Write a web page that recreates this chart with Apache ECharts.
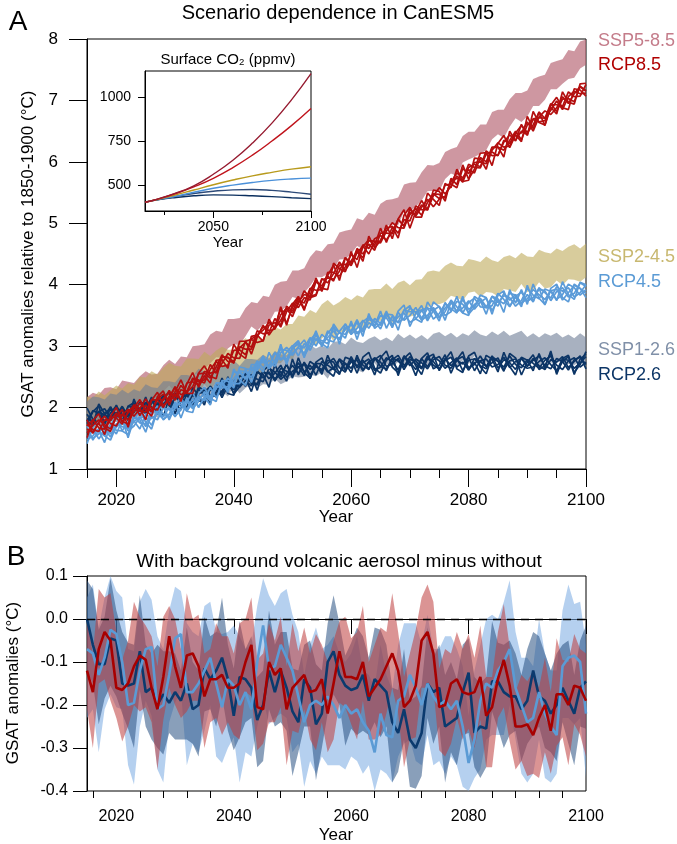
<!DOCTYPE html>
<html><head><meta charset="utf-8">
<script src="https://cdn.jsdelivr.net/npm/echarts@6/dist/echarts.min.js"></script>
<style>html,body{margin:0;padding:0;background:#fff}#c{width:677px;height:844px}</style>
</head><body><div id="c"></div>
<script>
const years = [2015,2016,2017,2018,2019,2020,2021,2022,2023,2024,2025,2026,2027,2028,2029,2030,2031,2032,2033,2034,2035,2036,2037,2038,2039,2040,2041,2042,2043,2044,2045,2046,2047,2048,2049,2050,2051,2052,2053,2054,2055,2056,2057,2058,2059,2060,2061,2062,2063,2064,2065,2066,2067,2068,2069,2070,2071,2072,2073,2074,2075,2076,2077,2078,2079,2080,2081,2082,2083,2084,2085,2086,2087,2088,2089,2090,2091,2092,2093,2094,2095,2096,2097,2098,2099,2100];

// Panel A: SSP bands
const ssp585Hi = [2.17,2.24,2.21,2.32,2.33,2.30,2.44,2.42,2.40,2.51,2.59,2.54,2.55,2.69,2.78,2.71,2.83,2.82,3.00,3.01,3.03,3.19,3.25,3.23,3.44,3.44,3.46,3.62,3.72,3.70,3.82,3.80,4.00,4.05,4.06,4.23,4.23,4.27,4.45,4.56,4.54,4.66,4.67,4.85,4.88,4.90,5.08,5.05,5.17,5.14,5.32,5.38,5.39,5.42,5.63,5.66,5.67,5.83,5.95,5.94,5.98,6.16,6.21,6.24,6.42,6.49,6.49,6.61,6.61,6.81,6.85,6.85,7.02,7.12,7.12,7.16,7.35,7.39,7.42,7.61,7.64,7.67,7.82,7.80,7.96,7.99];
const ssp585Lo = [1.76,1.78,1.78,1.84,1.91,1.86,1.97,2.02,1.95,2.09,2.13,2.13,2.07,2.26,2.36,2.24,2.39,2.42,2.54,2.56,2.62,2.72,2.82,2.81,2.96,3.03,3.02,3.16,3.32,3.25,3.35,3.38,3.56,3.57,3.65,3.80,3.77,3.87,3.98,4.12,4.12,4.18,4.26,4.41,4.42,4.50,4.63,4.58,4.75,4.71,4.84,4.96,4.98,4.97,5.19,5.19,5.27,5.37,5.52,5.53,5.52,5.72,5.81,5.77,5.99,6.04,6.08,6.13,6.19,6.37,6.45,6.39,6.57,6.71,6.65,6.74,6.91,6.91,7.01,7.18,7.18,7.27,7.35,7.37,7.52,7.58];
const ssp245Hi = [2.18,2.16,2.26,2.20,2.28,2.36,2.31,2.40,2.37,2.50,2.49,2.59,2.54,2.65,2.73,2.68,2.67,2.80,2.80,2.79,2.91,2.84,2.93,2.99,2.94,2.94,3.06,3.13,3.07,3.16,3.10,3.22,3.31,3.27,3.36,3.36,3.50,3.48,3.59,3.54,3.68,3.75,3.66,3.72,3.80,3.75,3.83,3.79,3.92,3.93,3.93,4.02,3.93,4.03,4.07,3.99,4.08,4.09,4.21,4.23,4.21,4.31,4.36,4.31,4.30,4.42,4.40,4.37,4.46,4.40,4.37,4.45,4.48,4.43,4.52,4.46,4.45,4.57,4.53,4.51,4.59,4.55,4.62,4.66,4.59,4.67];
const ssp245Lo = [1.61,1.64,1.71,1.62,1.77,1.80,1.78,1.81,1.83,1.98,1.94,2.01,2.01,2.14,2.16,2.14,2.08,2.28,2.25,2.23,2.38,2.27,2.42,2.41,2.40,2.39,2.47,2.60,2.55,2.59,2.56,2.70,2.72,2.72,2.83,2.78,2.99,2.92,3.02,3.02,3.12,3.22,3.08,3.21,3.25,3.18,3.31,3.25,3.33,3.40,3.41,3.46,3.38,3.44,3.54,3.48,3.51,3.55,3.63,3.68,3.68,3.72,3.82,3.79,3.74,3.87,3.89,3.80,3.88,3.87,3.81,3.93,3.91,3.88,4.01,3.88,3.91,4.04,3.94,3.96,4.07,3.99,4.09,4.08,4.05,4.12];
const ssp126Hi = [2.10,2.18,2.17,2.13,2.23,2.21,2.29,2.23,2.30,2.26,2.38,2.33,2.32,2.43,2.43,2.41,2.53,2.53,2.51,2.63,2.59,2.57,2.69,2.69,2.67,2.77,2.68,2.79,2.79,2.78,2.86,2.80,2.92,2.87,2.85,2.95,2.96,2.91,3.02,2.96,3.01,2.96,3.07,3.08,3.03,3.14,3.07,3.05,3.12,3.16,3.09,3.14,3.08,3.20,3.13,3.19,3.12,3.18,3.11,3.20,3.23,3.16,3.22,3.14,3.21,3.17,3.26,3.19,3.16,3.24,3.18,3.25,3.17,3.21,3.25,3.15,3.21,3.14,3.21,3.17,3.22,3.14,3.19,3.13,3.21,3.14];
const ssp126Lo = [1.68,1.71,1.73,1.64,1.80,1.76,1.81,1.82,1.84,1.83,1.91,1.91,1.83,1.99,2.00,1.93,2.08,2.12,2.04,2.17,2.17,2.09,2.25,2.26,2.18,2.35,2.23,2.32,2.38,2.32,2.38,2.37,2.47,2.38,2.43,2.51,2.49,2.50,2.54,2.51,2.58,2.47,2.65,2.63,2.56,2.73,2.61,2.57,2.69,2.72,2.60,2.71,2.66,2.74,2.68,2.71,2.71,2.71,2.67,2.78,2.76,2.71,2.81,2.66,2.77,2.71,2.84,2.70,2.73,2.79,2.77,2.78,2.71,2.79,2.77,2.72,2.76,2.65,2.79,2.73,2.75,2.73,2.71,2.69,2.76,2.68];

// Panel A: RCP ensemble members
const rcp85m1 = [1.65,1.60,1.76,1.86,1.74,1.70,1.88,1.97,1.86,1.98,2.14,1.99,1.96,2.15,2.24,2.18,2.36,2.25,2.34,2.55,2.56,2.48,2.66,2.86,2.75,2.74,2.97,3.06,2.98,3.25,3.20,3.22,3.45,3.31,3.56,3.70,3.63,3.79,3.75,4.05,3.98,4.14,4.06,4.32,4.33,4.33,4.59,4.50,4.66,4.56,4.84,4.84,4.83,5.07,4.95,5.14,5.24,5.13,5.34,5.48,5.40,5.44,5.67,5.82,5.74,5.87,5.82,6.07,6.00,6.24,6.24,6.19,6.35,6.50,6.36,6.60,6.69,6.65,6.67,6.93,6.93,6.90,7.14,7.06,7.07,7.26];
const rcp85m2 = [1.70,1.80,1.67,1.65,1.85,1.83,1.73,1.94,2.02,1.94,1.93,2.13,2.12,2.00,2.18,2.33,2.21,2.24,2.45,2.45,2.40,2.62,2.75,2.67,2.69,2.93,2.94,2.86,3.12,3.17,3.32,3.25,3.28,3.51,3.62,3.54,3.69,3.90,3.79,3.82,4.08,4.11,4.09,4.22,4.44,4.31,4.52,4.63,4.50,4.70,4.71,4.92,4.95,4.84,5.06,5.04,5.28,5.22,5.22,5.45,5.58,5.48,5.60,5.77,5.67,5.91,5.96,5.92,6.18,6.10,6.11,6.32,6.44,6.35,6.50,6.44,6.70,6.72,6.71,6.95,6.82,7.02,7.03,6.98,7.23,7.16];
const rcp85m3 = [1.59,1.71,1.80,1.72,1.65,1.87,1.89,1.80,1.93,2.07,1.97,1.95,2.14,2.22,2.11,2.22,2.13,2.40,2.42,2.37,2.59,2.56,2.58,2.83,2.81,2.75,2.99,2.95,2.95,3.18,3.26,3.39,3.29,3.42,3.61,3.48,3.72,3.84,3.81,3.84,4.10,4.03,4.18,4.37,4.23,4.39,4.53,4.44,4.72,4.71,4.68,4.87,5.01,4.93,4.92,5.18,5.15,5.30,5.23,5.48,5.47,5.41,5.70,5.73,5.71,5.96,5.91,5.90,6.13,6.16,6.10,6.35,6.30,6.47,6.59,6.48,6.60,6.81,6.71,6.84,6.99,6.85,7.06,7.15,7.11,7.12];
const rcp85m4 = [1.73,1.64,1.61,1.80,1.79,1.91,1.77,1.91,2.04,1.87,2.04,1.93,2.15,2.11,2.28,2.12,2.29,2.26,2.48,2.42,2.45,2.70,2.56,2.72,2.88,2.81,2.80,3.08,3.11,3.06,3.09,3.34,3.38,3.35,3.65,3.57,3.76,3.70,3.94,3.91,3.92,4.20,4.20,4.14,4.29,4.49,4.41,4.65,4.59,4.75,4.80,4.73,4.86,5.06,4.96,5.23,5.12,5.26,5.39,5.27,5.39,5.62,5.64,5.58,5.89,5.81,5.99,6.00,5.97,6.19,6.31,6.24,6.26,6.46,6.47,6.65,6.50,6.73,6.83,6.77,6.88,7.06,6.95,7.11,7.22,7.15];
const rcp85m5 = [1.80,1.58,1.75,1.56,1.86,2.00,1.78,1.73,2.04,1.99,1.80,2.12,2.25,2.03,2.13,2.34,2.10,2.38,2.57,2.33,2.52,2.40,2.77,2.78,2.64,3.03,2.87,2.80,3.16,3.18,3.08,3.44,3.28,3.64,3.37,3.63,3.79,3.58,3.91,4.07,3.94,3.92,4.35,4.26,4.21,4.54,4.28,4.62,4.73,4.64,4.92,4.69,4.94,4.76,5.13,5.26,5.10,5.10,5.49,5.39,5.29,5.65,5.58,5.88,5.68,5.70,6.06,6.05,5.88,6.23,6.24,6.08,6.50,6.34,6.61,6.43,6.82,6.64,6.60,6.92,7.05,6.88,6.85,7.19,7.17,7.07];
const rcp85m6 = [1.51,1.79,1.90,1.67,1.61,1.85,1.97,1.68,2.00,2.13,1.96,1.86,2.18,2.27,2.04,2.26,2.45,2.23,2.23,2.56,2.68,2.51,2.47,2.82,2.82,2.72,3.08,3.08,2.87,3.15,3.34,3.18,3.32,3.61,3.34,3.68,3.81,3.61,3.82,4.11,3.89,4.15,4.32,4.07,4.44,4.35,4.56,4.38,4.79,4.60,4.72,4.97,4.75,5.07,5.22,4.92,5.19,5.37,5.21,5.54,5.52,5.36,5.73,5.63,5.95,5.72,5.88,6.14,6.15,5.94,6.30,6.43,6.23,6.44,6.33,6.74,6.54,6.81,6.59,6.89,6.78,7.14,6.97,6.94,7.27,7.28];
const rcp45m1 = [1.61,1.50,1.57,1.73,1.57,1.68,1.78,1.62,1.70,1.84,1.85,1.71,1.95,1.90,1.84,1.99,2.10,1.97,2.15,2.01,2.17,2.18,2.40,2.39,2.30,2.40,2.60,2.58,2.49,2.72,2.74,2.66,2.90,2.77,2.90,3.01,2.84,3.04,2.99,3.18,3.03,3.14,3.25,3.10,3.30,3.25,3.43,3.23,3.38,3.32,3.50,3.46,3.31,3.55,3.42,3.50,3.63,3.45,3.61,3.61,3.46,3.56,3.75,3.64,3.54,3.71,3.78,3.64,3.63,3.81,3.71,3.82,3.79,3.65,3.74,3.94,3.83,3.77,3.93,3.89,3.76,3.84,4.01,3.95,3.83,3.92];
const rcp45m2 = [1.51,1.66,1.49,1.62,1.69,1.57,1.80,1.66,1.77,1.85,1.69,1.85,1.80,1.99,1.97,1.86,1.96,2.15,2.00,2.15,2.21,2.11,2.35,2.32,2.34,2.58,2.57,2.46,2.58,2.76,2.64,2.77,2.67,2.89,2.98,2.88,2.98,2.88,3.12,3.11,3.01,3.25,3.15,3.13,3.27,3.35,3.20,3.27,3.49,3.38,3.34,3.52,3.51,3.38,3.45,3.62,3.55,3.59,3.41,3.58,3.65,3.50,3.56,3.73,3.68,3.55,3.68,3.75,3.62,3.66,3.86,3.76,3.64,3.81,3.88,3.73,3.79,3.93,3.90,3.74,3.89,3.95,3.80,3.86,4.03,3.97];
const rcp45m3 = [1.47,1.54,1.66,1.65,1.52,1.74,1.69,1.66,1.86,1.75,1.73,1.94,1.92,1.85,2.00,1.85,2.02,2.10,1.98,2.10,2.26,2.15,2.31,2.42,2.27,2.47,2.60,2.47,2.66,2.63,2.78,2.63,2.76,2.95,2.93,2.85,2.99,3.10,2.93,3.12,3.09,3.04,3.30,3.22,3.19,3.37,3.22,3.29,3.43,3.41,3.28,3.51,3.42,3.39,3.59,3.56,3.56,3.42,3.50,3.63,3.47,3.62,3.72,3.56,3.62,3.74,3.60,3.72,3.78,3.58,3.75,3.69,3.86,3.83,3.70,3.77,3.92,3.84,3.76,3.90,3.93,3.75,3.87,3.99,3.94,3.86];
const rcp45m4 = [1.50,1.65,1.62,1.54,1.73,1.63,1.62,1.78,1.78,1.65,1.90,1.82,1.91,1.81,1.89,2.06,2.05,1.94,2.08,2.18,2.11,2.33,2.16,2.36,2.48,2.39,2.39,2.63,2.62,2.60,2.83,2.67,2.89,2.80,2.79,2.97,3.03,2.97,3.14,3.00,3.19,3.10,3.07,3.24,3.36,3.19,3.29,3.42,3.29,3.45,3.37,3.55,3.35,3.48,3.54,3.39,3.44,3.58,3.63,3.44,3.53,3.69,3.61,3.54,3.76,3.60,3.65,3.78,3.64,3.74,3.65,3.86,3.75,3.84,3.68,3.84,3.72,3.95,3.87,3.78,3.97,3.89,3.95,3.80,3.87,4.00];
const rcp45m5 = [1.41,1.68,1.78,1.54,1.47,1.70,1.81,1.51,1.82,1.94,1.76,1.65,1.96,2.04,1.80,2.01,2.18,1.94,1.92,2.23,2.33,2.15,2.10,2.44,2.43,2.32,2.66,2.64,2.41,2.67,2.84,2.64,2.75,3.00,2.70,3.00,3.09,2.84,3.01,3.25,2.99,3.20,3.33,3.03,3.36,3.22,3.39,3.16,3.53,3.29,3.37,3.57,3.30,3.57,3.67,3.32,3.53,3.66,3.44,3.72,3.64,3.42,3.72,3.56,3.81,3.52,3.63,3.83,3.79,3.52,3.83,3.90,3.65,3.80,3.64,3.99,3.73,3.95,3.67,3.91,3.74,4.05,3.84,3.76,4.04,4.00];
const rcp45m6 = [1.70,1.47,1.63,1.43,1.72,1.85,1.62,1.56,1.86,1.80,1.60,1.91,2.03,1.80,1.89,2.09,1.83,2.09,2.26,2.00,2.17,2.04,2.40,2.40,2.25,2.63,2.45,2.36,2.70,2.70,2.58,2.90,2.71,3.03,2.73,2.95,3.07,2.81,3.10,3.21,3.04,2.97,3.36,3.22,3.13,3.41,3.11,3.40,3.47,3.33,3.57,3.29,3.49,3.26,3.58,3.66,3.44,3.39,3.72,3.57,3.41,3.71,3.57,3.81,3.54,3.50,3.81,3.74,3.52,3.81,3.77,3.55,3.92,3.70,3.92,3.68,4.01,3.78,3.68,3.94,4.01,3.79,3.72,4.01,3.94,3.79];
const rcp26m1 = [1.78,1.95,1.91,1.76,1.91,2.03,1.87,1.86,2.03,1.99,1.90,2.07,2.14,2.01,1.97,2.16,2.12,2.00,2.21,2.22,2.32,2.20,2.18,2.36,2.42,2.29,2.39,2.55,2.39,2.37,2.58,2.55,2.47,2.54,2.70,2.51,2.66,2.71,2.53,2.67,2.62,2.77,2.74,2.56,2.72,2.64,2.81,2.69,2.62,2.78,2.85,2.67,2.71,2.80,2.62,2.78,2.76,2.65,2.84,2.69,2.63,2.77,2.82,2.66,2.74,2.61,2.80,2.75,2.67,2.84,2.64,2.78,2.73,2.62,2.81,2.68,2.77,2.84,2.68,2.63,2.80,2.75,2.61,2.78,2.82,2.70];
const rcp26m2 = [1.82,1.77,1.93,1.98,1.84,1.92,1.79,2.02,2.00,1.91,2.09,2.01,1.97,2.17,2.09,1.98,2.17,2.09,2.04,2.23,2.26,2.34,2.19,2.27,2.41,2.23,2.42,2.49,2.41,2.39,2.60,2.47,2.56,2.69,2.49,2.59,2.67,2.52,2.75,2.68,2.59,2.72,2.80,2.65,2.58,2.78,2.68,2.77,2.63,2.81,2.74,2.60,2.81,2.76,2.66,2.83,2.71,2.63,2.79,2.75,2.62,2.80,2.68,2.78,2.83,2.65,2.70,2.84,2.67,2.73,2.81,2.61,2.76,2.79,2.69,2.64,2.66,2.75,2.81,2.70,2.60,2.79,2.77,2.64,2.73,2.83];
const rcp26m3 = [1.89,1.75,1.94,1.87,2.01,1.82,1.95,1.88,2.06,1.96,1.95,2.15,1.95,2.06,2.16,2.04,1.98,2.22,2.20,2.11,2.09,2.29,2.28,2.20,2.45,2.32,2.46,2.35,2.54,2.46,2.42,2.64,2.58,2.46,2.55,2.69,2.55,2.73,2.62,2.72,2.71,2.58,2.65,2.78,2.62,2.83,2.65,2.73,2.79,2.60,2.66,2.81,2.75,2.61,2.84,2.68,2.79,2.73,2.63,2.78,2.83,2.69,2.64,2.77,2.71,2.82,2.60,2.76,2.79,2.66,2.70,2.82,2.65,2.75,2.80,2.67,2.80,2.68,2.62,2.78,2.74,2.83,2.65,2.75,2.84,2.63];
const rcp26m4 = [1.99,1.81,1.75,1.91,1.97,1.88,2.02,1.87,1.92,2.09,2.06,1.93,2.05,2.20,2.03,1.97,2.15,2.20,2.07,2.30,2.20,2.17,2.35,2.16,2.36,2.45,2.33,2.44,2.35,2.60,2.48,2.58,2.44,2.64,2.59,2.53,2.73,2.58,2.69,2.53,2.75,2.69,2.62,2.79,2.61,2.74,2.77,2.60,2.74,2.81,2.67,2.63,2.78,2.85,2.69,2.74,2.62,2.80,2.66,2.83,2.76,2.64,2.73,2.81,2.60,2.77,2.79,2.68,2.63,2.82,2.75,2.66,2.84,2.70,2.65,2.78,2.72,2.64,2.77,2.84,2.69,2.62,2.76,2.81,2.66,2.74];
const rcp26m5 = [1.74,1.93,2.03,1.71,2.01,1.85,2.01,1.78,2.14,1.90,1.97,2.17,1.89,2.16,2.25,1.90,2.12,2.26,2.05,2.34,2.27,2.06,2.38,2.23,2.50,2.22,2.34,2.56,2.53,2.28,2.60,2.68,2.43,2.59,2.43,2.79,2.53,2.74,2.47,2.71,2.54,2.85,2.63,2.54,2.82,2.78,2.56,2.82,2.90,2.64,2.56,2.77,2.85,2.52,2.80,2.89,2.68,2.54,2.82,2.87,2.60,2.78,2.91,2.63,2.57,2.84,2.90,2.66,2.55,2.83,2.76,2.59,2.88,2.81,2.53,2.74,2.86,2.62,2.68,2.89,2.54,2.80,2.85,2.57,2.70,2.91];
const rcp26m6 = [1.79,1.70,2.06,1.90,1.78,2.04,1.73,2.02,2.08,1.94,2.17,1.89,2.08,1.85,2.16,2.24,2.03,1.99,2.33,2.19,2.04,2.35,2.23,2.48,2.23,2.20,2.52,2.47,2.26,2.57,2.54,2.33,2.70,2.49,2.71,2.48,2.81,2.57,2.48,2.74,2.81,2.59,2.51,2.79,2.72,2.57,2.85,2.61,2.75,2.53,2.81,2.92,2.66,2.57,2.84,2.75,2.52,2.80,2.89,2.63,2.69,2.86,2.56,2.78,2.91,2.61,2.74,2.55,2.85,2.79,2.58,2.90,2.67,2.53,2.82,2.77,2.60,2.88,2.64,2.92,2.57,2.75,2.83,2.54,2.79,2.87];

// Inset: surface CO2 (ppmv)
const co2Years = [2015,2020,2030,2040,2050,2060,2070,2080,2090,2100];
const co2Ssp585 = [400,414,449,494,560,640,738,852,985,1135];
const co2Rcp85  = [400,413,447,488,537,598,669,750,838,936];
const co2Ssp245 = [400,413,440,470,500,527,551,571,589,603];
const co2Rcp45  = [400,412,433,457,480,498,513,525,533,538];
const co2Ssp126 = [400,412,432,450,463,471,473,468,458,446];
const co2Rcp26  = [400,411,426,437,442,441,437,432,426,421];

// Panel B: with minus without background volcanic aerosol
const bRed = [-0.12,-0.17,-0.07,-0.03,-0.05,-0.16,-0.165,-0.15,-0.11,-0.085,-0.095,-0.16,-0.21,-0.135,-0.04,-0.11,-0.16,-0.085,-0.08,-0.11,-0.18,-0.14,-0.14,-0.13,-0.16,-0.16,-0.15,-0.10,-0.06,-0.205,-0.21,-0.10,-0.13,-0.115,-0.21,-0.16,-0.145,-0.13,-0.17,-0.165,-0.14,-0.22,-0.15,-0.075,-0.135,-0.135,-0.14,-0.10,-0.18,-0.16,-0.14,-0.11,-0.08,-0.12,-0.205,-0.19,-0.155,-0.05,-0.03,-0.08,-0.205,-0.20,-0.15,-0.14,-0.17,-0.175,-0.17,-0.135,-0.225,-0.205,-0.14,-0.095,-0.155,-0.25,-0.25,-0.245,-0.27,-0.23,-0.20,-0.26,-0.175,-0.175,-0.20,-0.155,-0.16,-0.19];
const bRedHi = [0.00,-0.08,0.07,0.05,0.06,-0.03,-0.095,-0.05,0.04,0.005,-0.015,-0.04,-0.11,0.005,0.03,0.00,-0.07,0.06,0.00,0.01,-0.08,-0.07,-0.01,-0.04,-0.04,-0.08,-0.01,0.00,0.05,-0.095,-0.08,-0.01,-0.05,0.005,-0.11,-0.01,-0.075,-0.02,-0.08,-0.035,-0.06,-0.10,-0.05,-0.005,0.005,-0.045,-0.03,0.03,-0.10,-0.06,-0.02,-0.03,0.06,-0.03,-0.135,-0.08,-0.025,0.05,0.08,0.04,-0.115,-0.07,-0.08,-0.03,-0.07,-0.035,-0.09,-0.015,-0.135,-0.135,-0.03,0.035,-0.065,-0.17,-0.13,-0.145,-0.12,-0.16,-0.09,-0.17,-0.045,-0.095,-0.10,-0.035,-0.07,-0.08];
const bRedLo = [-0.21,-0.30,-0.15,-0.14,-0.19,-0.23,-0.285,-0.25,-0.20,-0.215,-0.205,-0.24,-0.35,-0.235,-0.16,-0.20,-0.23,-0.215,-0.19,-0.19,-0.30,-0.24,-0.23,-0.27,-0.24,-0.27,-0.28,-0.17,-0.18,-0.305,-0.29,-0.24,-0.24,-0.205,-0.34,-0.26,-0.265,-0.21,-0.28,-0.305,-0.24,-0.31,-0.28,-0.195,-0.205,-0.245,-0.28,-0.19,-0.28,-0.28,-0.27,-0.22,-0.16,-0.22,-0.345,-0.28,-0.275,-0.16,-0.16,-0.16,-0.305,-0.32,-0.29,-0.23,-0.28,-0.255,-0.30,-0.235,-0.345,-0.345,-0.23,-0.205,-0.285,-0.35,-0.33,-0.365,-0.36,-0.37,-0.31,-0.36,-0.295,-0.275,-0.34,-0.245,-0.27,-0.32];
const bNavy = [0.00,-0.06,-0.105,-0.105,-0.045,-0.05,-0.15,-0.155,-0.15,-0.075,-0.17,-0.16,-0.20,-0.175,-0.195,-0.17,-0.19,-0.15,-0.21,-0.20,-0.115,-0.14,-0.12,-0.09,-0.14,-0.225,-0.135,-0.14,-0.16,-0.235,-0.20,-0.12,-0.17,-0.12,-0.16,-0.215,-0.24,-0.14,-0.16,-0.245,-0.22,-0.10,-0.075,-0.13,-0.155,-0.165,-0.16,-0.13,-0.19,-0.14,-0.155,-0.17,-0.24,-0.265,-0.21,-0.28,-0.30,-0.265,-0.15,-0.17,-0.16,-0.25,-0.24,-0.23,-0.17,-0.125,-0.265,-0.25,-0.255,-0.145,-0.145,-0.17,-0.18,-0.18,-0.21,-0.19,-0.12,-0.18,-0.19,-0.22,-0.20,-0.16,-0.19,-0.22,-0.16,-0.145];
const bNavyHi = [0.09,0.07,-0.025,0.005,0.095,0.02,-0.03,-0.055,-0.06,0.055,-0.06,-0.08,-0.06,-0.075,-0.075,-0.08,-0.12,-0.02,-0.10,-0.12,0.005,-0.04,-0.03,0.05,-0.06,-0.115,-0.005,-0.07,-0.04,-0.135,-0.12,0.02,-0.06,-0.03,-0.03,-0.115,-0.12,-0.06,-0.05,-0.105,-0.12,-0.01,0.055,-0.01,-0.085,-0.055,-0.02,-0.04,-0.09,-0.02,-0.025,-0.06,-0.16,-0.165,-0.07,-0.19,-0.18,-0.155,-0.02,-0.09,-0.06,-0.13,-0.10,-0.14,-0.06,-0.045,-0.135,-0.15,-0.135,-0.005,-0.055,-0.06,-0.05,-0.08,-0.13,-0.07,-0.03,-0.04,-0.08,-0.12,-0.08,-0.06,-0.05,-0.13,-0.05,-0.015];
const bNavyLo = [-0.12,-0.15,-0.245,-0.185,-0.155,-0.18,-0.22,-0.255,-0.30,-0.165,-0.25,-0.28,-0.30,-0.315,-0.265,-0.28,-0.28,-0.28,-0.29,-0.32,-0.215,-0.21,-0.25,-0.18,-0.26,-0.305,-0.275,-0.24,-0.23,-0.345,-0.33,-0.21,-0.25,-0.24,-0.26,-0.365,-0.31,-0.25,-0.25,-0.375,-0.30,-0.22,-0.175,-0.20,-0.295,-0.255,-0.27,-0.26,-0.27,-0.24,-0.275,-0.25,-0.38,-0.355,-0.28,-0.39,-0.395,-0.365,-0.23,-0.29,-0.25,-0.38,-0.31,-0.34,-0.27,-0.265,-0.345,-0.37,-0.345,-0.215,-0.255,-0.30,-0.27,-0.26,-0.33,-0.29,-0.27,-0.25,-0.30,-0.31,-0.33,-0.24,-0.29,-0.34,-0.25,-0.255];
const bLight = [-0.07,-0.08,-0.13,-0.09,-0.025,-0.035,-0.10,-0.20,-0.195,-0.12,-0.07,-0.065,-0.21,-0.20,-0.13,-0.045,-0.035,-0.17,-0.17,-0.15,-0.12,-0.09,-0.15,-0.205,-0.14,-0.155,-0.20,-0.17,-0.21,-0.10,-0.015,-0.115,-0.11,-0.06,-0.09,-0.12,-0.18,-0.24,-0.20,-0.19,-0.20,-0.18,-0.20,-0.23,-0.20,-0.22,-0.21,-0.24,-0.26,-0.31,-0.22,-0.27,-0.275,-0.19,-0.18,-0.13,-0.16,-0.20,-0.15,-0.18,-0.20,-0.19,-0.21,-0.19,-0.25,-0.335,-0.28,-0.19,-0.15,-0.16,-0.12,-0.10,-0.07,-0.16,-0.20,-0.24,-0.23,-0.17,-0.22,-0.25,-0.27,-0.11,-0.09,-0.085,-0.10,-0.22];
const bLightHi = [0.05,0.08,-0.02,0.05,0.10,0.065,0.05,-0.07,-0.075,0.04,0.07,0.045,-0.04,-0.07,0.02,0.075,0.065,-0.01,-0.03,-0.04,0.03,0.04,-0.03,-0.035,-0.03,-0.015,-0.04,-0.07,-0.06,0.03,0.095,0.055,0.03,0.06,0.07,0.01,-0.03,-0.13,-0.06,-0.02,-0.07,-0.06,-0.04,-0.08,-0.10,-0.08,-0.04,-0.12,-0.13,-0.16,-0.06,-0.13,-0.165,-0.06,-0.01,-0.01,-0.01,-0.06,0.01,-0.07,-0.07,-0.04,-0.04,-0.07,-0.11,-0.225,-0.12,-0.06,0.00,0.01,0.00,0.04,0.09,-0.03,-0.09,-0.09,-0.11,0.00,-0.08,-0.12,-0.12,0.02,0.08,0.035,0.04,-0.06];
const bLightLo = [-0.23,-0.21,-0.31,-0.21,-0.175,-0.205,-0.21,-0.34,-0.385,-0.25,-0.19,-0.225,-0.35,-0.38,-0.24,-0.195,-0.165,-0.34,-0.29,-0.31,-0.26,-0.20,-0.32,-0.335,-0.30,-0.275,-0.38,-0.31,-0.32,-0.25,-0.185,-0.245,-0.23,-0.22,-0.23,-0.31,-0.29,-0.39,-0.33,-0.36,-0.32,-0.34,-0.34,-0.34,-0.35,-0.32,-0.33,-0.36,-0.34,-0.40,-0.35,-0.36,-0.38,-0.32,-0.29,-0.28,-0.33,-0.34,-0.27,-0.34,-0.33,-0.36,-0.32,-0.34,-0.39,-0.40,-0.37,-0.35,-0.28,-0.27,-0.27,-0.27,-0.20,-0.28,-0.36,-0.38,-0.36,-0.28,-0.37,-0.38,-0.36,-0.23,-0.23,-0.245,-0.23,-0.37];

// Tick labels
const aMajor = [2020,2040,2060,2080,2100];
const aMinor = [2015,2025,2030,2035,2045,2050,2055,2065,2070,2075,2085,2090,2095];
const insetX = [2050,2100];
const insetXMinor = [2025,2075];
const insetY = [500,750,1000];
const bMinor = [2016,2024,2028,2032,2036,2044,2048,2052,2056,2064,2068,2072,2076,2084,2088,2092,2096];

const FONT = "'Liberation Sans', Arial, Helvetica, sans-serif";
const BLK = '#000';
const plain = function(v){ return String(v); };

function pairs(xs, ys){ return xs.map((x,i)=>[x, ys[i]]); }
function band(xi, yi, lo, hi, color, z){
  return {type:'custom', xAxisIndex:xi, yAxisIndex:yi, clip:true, silent:true, z:z,
    data:[[years[0], lo[0]]],
    renderItem:function(params, api){
      if (params.dataIndex !== 0) return;
      const pts=[];
      for (let i=0;i<years.length;i++) pts.push(api.coord([years[i], hi[i]]));
      for (let j=years.length-1;j>=0;j--) pts.push(api.coord([years[j], lo[j]]));
      return {type:'polygon', shape:{points:pts}, style:{fill:color}};
    }};
}
function ln(xi, yi, xs, ys, color, w, z, smooth){
  return {type:'line', xAxisIndex:xi, yAxisIndex:yi, data:pairs(xs, ys), showSymbol:false, symbol:'none',
    smooth:!!smooth, lineStyle:{color:color, width:w}, itemStyle:{color:color}, silent:true, z:z};
}
function xMajor(g, vals, len, fs, margin){
  return {gridIndex:g, type:'value', min:2015, max:2100,
    axisLine:{show:true, lineStyle:{color:BLK, width:1}},
    axisTick:{show:true, inside:false, length:len, customValues:vals, lineStyle:{color:BLK, width:1}},
    axisLabel:{show:true, customValues:vals, formatter:plain, color:BLK, fontSize:fs, fontFamily:FONT, margin:margin},
    splitLine:{show:false}};
}
function xMinor(g, vals, len){
  return {gridIndex:g, type:'value', min:2015, max:2100, position:'bottom',
    axisLine:{show:false}, axisTick:{show:true, inside:false, length:len, customValues:vals, lineStyle:{color:BLK, width:1}},
    axisLabel:{show:false}, splitLine:{show:false}};
}

const W = 1.7;
const series = [
  band(0,0, ssp585Lo, ssp585Hi, 'rgba(180,95,110,0.65)', 1),
  band(0,0, ssp245Lo, ssp245Hi, 'rgba(190,170,90,0.6)', 1),
  band(0,0, ssp126Lo, ssp126Hi, 'rgba(110,125,150,0.6)', 1)
];
[rcp26m1,rcp26m2,rcp26m3,rcp26m4,rcp26m5,rcp26m6].forEach(m=>series.push(ln(0,0, years, m, '#0c3566', W, 3)));
[rcp45m1,rcp45m2,rcp45m3,rcp45m4,rcp45m5,rcp45m6].forEach(m=>series.push(ln(0,0, years, m, '#5b9bd8', W, 4)));
[rcp85m1,rcp85m2,rcp85m3,rcp85m4,rcp85m5,rcp85m6].forEach(m=>series.push(ln(0,0, years, m, '#b30f0f', W, 5)));
series.push(
  ln(2,1, co2Years, co2Rcp26, '#0b2f5e', 1.4, 6, true),
  ln(2,1, co2Years, co2Ssp126, '#2d4a78', 1.4, 6, true),
  ln(2,1, co2Years, co2Rcp45, '#4a90d9', 1.4, 6, true),
  ln(2,1, co2Years, co2Ssp245, '#b89a1c', 1.4, 6, true),
  ln(2,1, co2Years, co2Rcp85, '#c0141c', 1.4, 6, true),
  ln(2,1, co2Years, co2Ssp585, '#961b30', 1.4, 6, true),
  band(4,2, bLightLo, bLightHi, 'rgba(120,170,225,0.55)', 1),
  band(4,2, bNavyLo, bNavyHi, 'rgba(40,80,130,0.55)', 1),
  band(4,2, bRedLo, bRedHi, 'rgba(190,60,60,0.55)', 1),
  ln(4,2, years, bNavy, '#0b3a6e', 2.6, 4),
  ln(4,2, years, bLight, '#5b9bd5', 2.6, 4),
  Object.assign(ln(4,2, years, bRed, '#a80000', 2.6, 5), {
    markLine:{silent:true, symbol:['none','none'], label:{show:false},
      lineStyle:{color:BLK, type:[8,6], width:1.3}, data:[{yAxis:0}]}})
);

function txt(x, y, s, size, color, align, rot){
  return {type:'text', x:x, y:y, rotation:rot||0, silent:true, z:100,
    style:{text:s, font:'normal '+size+'px '+FONT, fill:color||BLK,
      align:align||'center', verticalAlign:'middle', textAlign:align||'center', textVerticalAlign:'middle'}};
}

const option = {
  animation:false,
  backgroundColor:'#fff',
  grid:[
    {left:87, top:39, width:499, height:430, show:true, borderColor:BLK, borderWidth:1, backgroundColor:'transparent'},
    {left:145, top:71, width:166, height:140, show:true, borderColor:BLK, borderWidth:1, backgroundColor:'#fff'},
    {left:87, top:576, width:499, height:215, show:true, borderColor:BLK, borderWidth:1, backgroundColor:'transparent'}
  ],
  xAxis:[
    xMajor(0, aMajor, 18, 17, 23),
    xMinor(0, aMinor, 9),
    xMajor(1, insetX, 7, 14, 9),
    xMinor(1, insetXMinor, 4),
    xMajor(2, aMajor, 15, 16, 18),
    xMinor(2, bMinor, 7)
  ],
  yAxis:[
    {gridIndex:0, type:'value', min:1, max:8, interval:1,
      axisLine:{show:true, lineStyle:{color:BLK}}, axisTick:{show:true, length:18, lineStyle:{color:BLK}},
      axisLabel:{color:BLK, fontSize:17, fontFamily:FONT, margin:29, formatter:plain}, splitLine:{show:false}},
    {gridIndex:1, type:'value', min:350, max:1150,
      axisLine:{show:true, lineStyle:{color:BLK}}, axisTick:{show:true, length:7, customValues:insetY, lineStyle:{color:BLK}},
      axisLabel:{customValues:insetY, formatter:plain, color:BLK, fontSize:14, fontFamily:FONT, margin:14}, splitLine:{show:false}},
    {gridIndex:2, type:'value', min:-0.4, max:0.1, interval:0.1,
      axisLine:{show:true, lineStyle:{color:BLK}}, axisTick:{show:true, length:14, lineStyle:{color:BLK}},
      axisLabel:{color:BLK, fontSize:16, fontFamily:FONT, margin:19,
        formatter:function(v){ return (Math.abs(v)<1e-9?0:v).toFixed(1); }}, splitLine:{show:false}}
  ],
  series:series,
  graphic:{elements:[
    txt(18, 22, 'A', 28),
    txt(338, 13, 'Scenario dependence in CanESM5', 20),
    txt(228, 60, 'Surface CO\u2082 (ppmv)', 15),
    txt(228, 243, 'Year', 15),
    txt(28, 254, 'GSAT anomalies relative to 1850-1900 (\u00B0C)', 17, BLK, 'center', Math.PI/2),
    txt(336, 517, 'Year', 17),
    txt(598, 41, 'SSP5-8.5', 18, '#c47c8a', 'left'),
    txt(598, 65, 'RCP8.5', 18, '#b00000', 'left'),
    txt(598, 257, 'SSP2-4.5', 18, '#c8b870', 'left'),
    txt(598, 282, 'RCP4.5', 18, '#5b9bd5', 'left'),
    txt(598, 350, 'SSP1-2.6', 18, '#8090a8', 'left'),
    txt(598, 375, 'RCP2.6', 18, '#0c3566', 'left'),
    txt(16, 557, 'B', 28),
    txt(339, 562, 'With background volcanic aerosol minus without', 19),
    txt(13, 683, 'GSAT anomalies (\u00B0C)', 17, BLK, 'center', Math.PI/2),
    txt(336, 835, 'Year', 17)
  ]}
};
const chart = echarts.init(document.getElementById('c'), null, {renderer:'canvas', width:677, height:844});
chart.setOption(option);
</script></body></html>
